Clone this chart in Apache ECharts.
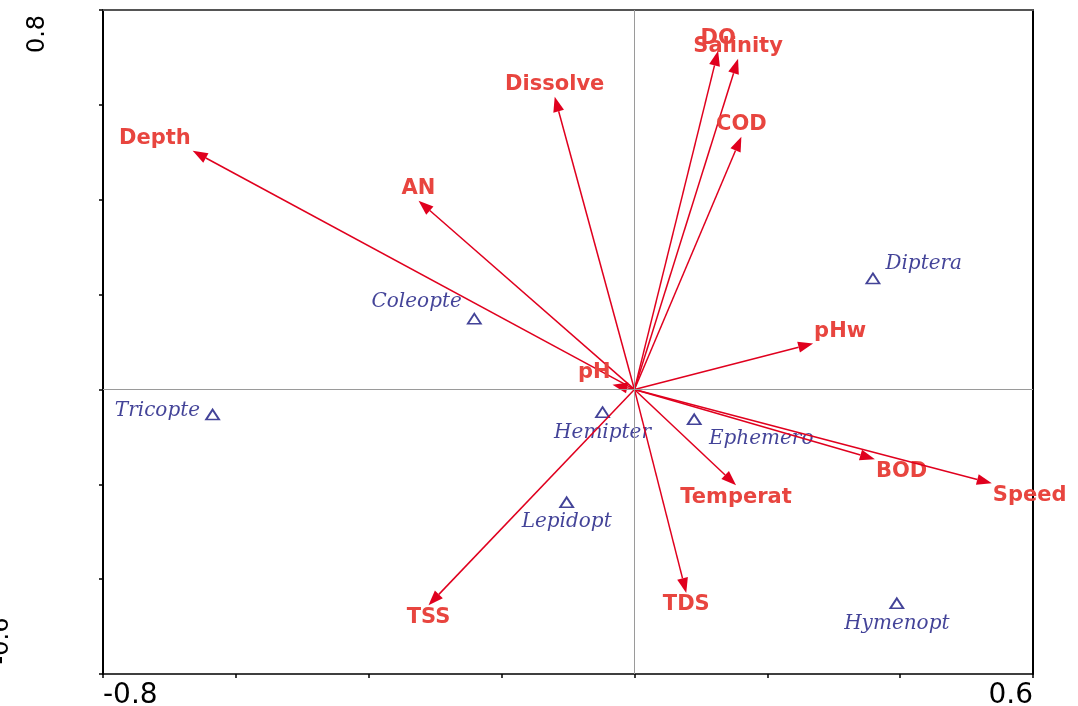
<!DOCTYPE html>
<html>
<head>
<meta charset="utf-8">
<title>CCA biplot</title>
<script src="https://cdn.jsdelivr.net/npm/echarts@6/dist/echarts.min.js"></script>
<style>
    html, body { margin: 0; padding: 0; background: #fff; }
    #chart { width: 1078px; height: 706px; }
</style>
</head>
<body>
<div id="chart"></div>
<script>
// environmental variables: arrow tips
const envNames = ['Depth', 'AN', 'Dissolve', 'DO', 'Salinity', 'COD', 'pHw', 'pH', 'BOD', 'Speed', 'Temperat', 'TDS', 'TSS'];
const envX = [-0.665, -0.325, -0.120, 0.126, 0.156, 0.161, 0.269, -0.033, 0.362, 0.538, 0.153, 0.078, -0.310];
const envY = [0.503, 0.398, 0.617, 0.714, 0.697, 0.533, 0.097, 0.010, -0.147, -0.198, -0.202, -0.429, -0.455];

// taxa scores
const taxaNames = ['Diptera', 'Coleopte', 'Tricopte', 'Hemipter', 'Ephemero', 'Lepidopt', 'Hymenopt'];
const taxaX = [0.359, -0.241, -0.635, -0.048, 0.090, -0.102, 0.395];
const taxaY = [0.234, 0.149, -0.053, -0.048, -0.063, -0.238, -0.451];

// only the end ticks carry labels
const xTickLabels = [-0.8, 0.6];
const yTickLabels = [-0.6, 0.8];

const ARROW = '#e0001e';
const LABEL_RED = '#e8453f';
const NAVY = '#14147e';

// label placement for the taxa (style only)
const taxaLabelPos = {
    Diptera: { position: 'right', offset: [0, -15] },
    Coleopte: { position: 'left', offset: [0, -17] },
    Tricopte: { position: 'left', offset: [0, -4] },
    Hemipter: { position: 'bottom', offset: [0, 0] },
    Ephemero: { position: 'bottom', offset: [67, -1] },
    Lepidopt: { position: 'bottom', offset: [0, -1] },
    Hymenopt: { position: 'bottom', offset: [0, 0] }
};

const isTick = (v, list) => list.some(t => Math.abs(t - v) < 1e-9);

const chart = echarts.init(document.getElementById('chart'));

function renderArrow(params, api) {
    const o = api.coord([0, 0]);
    const p = api.coord([api.value(0), api.value(1)]);
    const dx = p[0] - o[0], dy = p[1] - o[1];
    const len = Math.sqrt(dx * dx + dy * dy) || 1;
    const ux = dx / len, uy = dy / len;
    const headL = 15, headW = 5.5;
    const bx = p[0] - ux * headL, by = p[1] - uy * headL;

    // label alignment from the arrow's direction (data space)
    const vx = api.value(0), vy = api.value(1);
    const cosA = vx / Math.sqrt(vx * vx + vy * vy);
    let align = 'center';
    if (cosA > 0.7) align = 'left';
    else if (cosA < -0.7) align = 'right';
    const ty = vy >= 0 ? p[1] - 12 : p[1] + 12;
    const tx = align === 'left' ? p[0] + 1 : align === 'right' ? p[0] - 2 : p[0];

    return {
        type: 'group',
        children: [
            {
                type: 'line',
                shape: { x1: o[0], y1: o[1], x2: bx, y2: by },
                style: { stroke: ARROW, lineWidth: 1.5 }
            },
            {
                type: 'polygon',
                shape: {
                    points: [
                        [p[0], p[1]],
                        [bx - uy * headW, by + ux * headW],
                        [bx + uy * headW, by - ux * headW]
                    ]
                },
                style: { fill: ARROW }
            },
            {
                type: 'text',
                style: {
                    x: tx,
                    y: ty,
                    text: envNames[params.dataIndex],
                    fill: LABEL_RED,
                    font: 'bold 21px "DejaVu Sans"',
                    align: align,
                    verticalAlign: 'middle'
                }
            }
        ]
    };
}

const option = {
    animation: false,
    backgroundColor: '#fff',
    grid: { left: 103, right: 45, top: 10, bottom: 32, outerBoundsMode: 'none' },
    xAxis: [
        {
            type: 'value',
            min: -0.8,
            max: 0.6,
            interval: 0.2,
            splitLine: { show: false },
            axisLine: { onZero: false, lineStyle: { color: '#000', width: 1.5 } },
            axisTick: { length: 4, lineStyle: { color: '#000', width: 1.5 } },
            axisLabel: {
                margin: 8,
                color: '#000',
                fontFamily: 'DejaVu Sans',
                fontSize: 28,
                alignMinLabel: 'left',
                alignMaxLabel: 'right',
                formatter: v => isTick(v, xTickLabels) ? String(v) : ''
            }
        },
        {
            type: 'value',
            position: 'top',
            min: -0.8,
            max: 0.6,
            splitLine: { show: false },
            axisLine: { show: true, onZero: false, lineStyle: { color: '#555', width: 2 } },
            axisTick: { show: false },
            axisLabel: { show: false }
        }
    ],
    yAxis: [
        {
            type: 'value',
            min: -0.6,
            max: 0.8,
            interval: 0.2,
            splitLine: { show: false },
            axisLine: { show: true, onZero: false, lineStyle: { color: '#000', width: 2 } },
            axisTick: { show: true, length: 4, lineStyle: { color: '#000', width: 1.5 } },
            axisLabel: {
                rotate: 90,
                margin: 53,
                color: '#000',
                fontFamily: 'DejaVu Sans',
                fontSize: 24,
                formatter: v => {
                    if (!isTick(v, yTickLabels)) return '';
                    return v > 0 ? '{hi|' + v + '}' : '{lo|' + v + '}';
                },
                rich: {
                    hi: { fontFamily: 'DejaVu Sans', fontSize: 24, color: '#000', padding: [0, 48, 0, 0] },
                    lo: { fontFamily: 'DejaVu Sans', fontSize: 24, color: '#000', padding: [0, 0, 36, 66] }
                }
            }
        },
        {
            type: 'value',
            position: 'right',
            min: -0.6,
            max: 0.8,
            splitLine: { show: false },
            axisLine: { show: true, onZero: false, lineStyle: { color: '#000', width: 2 } },
            axisTick: { show: false },
            axisLabel: { show: false }
        }
    ],
    series: [
        {
            // zero lines through the origin
            type: 'line',
            data: [],
            z: 1,
            silent: true,
            markLine: {
                silent: true,
                symbol: 'none',
                label: { show: false },
                lineStyle: { color: '#9a9a9a', width: 1, type: 'solid' },
                data: [{ xAxis: 0 }, { yAxis: 0 }]
            }
        },
        {
            type: 'scatter',
            z: 2,
            symbol: 'triangle',
            symbolSize: [13, 10],
            itemStyle: { color: 'rgba(0,0,0,0)', borderColor: NAVY, borderWidth: 1.8 },
            label: {
                show: true,
                color: NAVY,
                fontFamily: 'DejaVu Serif',
                fontStyle: 'italic',
                fontSize: 20,
                formatter: p => p.name
            },
            data: taxaNames.map((n, i) => ({
                name: n,
                value: [taxaX[i], taxaY[i]],
                label: taxaLabelPos[n]
            }))
        },
        {
            type: 'custom',
            z: 3,
            renderItem: renderArrow,
            data: envX.map((x, i) => [x, envY[i]])
        }
    ]
};

chart.setOption(option);
</script>
</body>
</html>
